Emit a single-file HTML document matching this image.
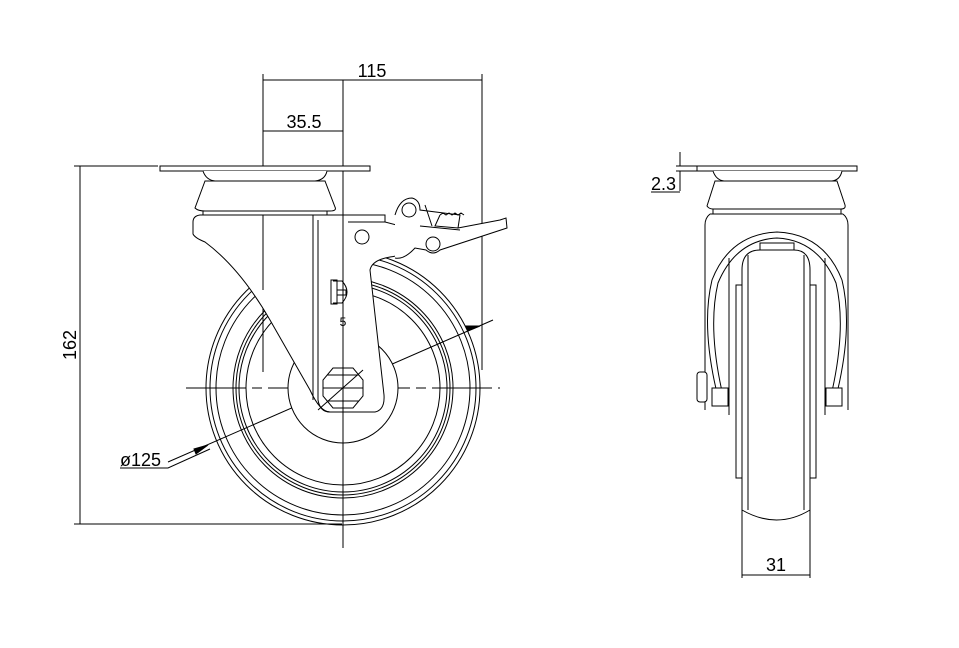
<!DOCTYPE html>
<html><head><meta charset="utf-8"><style>html,body{margin:0;padding:0;background:#fff}svg{display:block}</style></head>
<body>
<svg width="959" height="648" viewBox="0 0 959 648" xmlns="http://www.w3.org/2000/svg" fill="none" stroke="#000" stroke-width="1" font-family="Liberation Sans, sans-serif">
<!-- LEFT VIEW -->
<line x1="263" y1="80" x2="482" y2="80"/>
<line x1="263" y1="74" x2="263" y2="372"/>
<line x1="482" y1="74" x2="482" y2="370"/>
<text x="372" y="77" font-size="18" fill="#000" stroke="none" text-anchor="middle">115</text>
<line x1="263" y1="131" x2="343" y2="131"/>
<text x="304" y="128" font-size="18" fill="#000" stroke="none" text-anchor="middle">35.5</text>
<line x1="80" y1="166" x2="80" y2="524"/>
<line x1="74" y1="166" x2="158" y2="166"/>
<line x1="74" y1="524" x2="342" y2="524"/>
<text transform="translate(80,345) rotate(-90)" font-size="18" fill="#000" stroke="none" text-anchor="middle" dy="-4">162</text>
<line x1="343" y1="80" x2="343" y2="548"/>
<line x1="186" y1="388" x2="500" y2="388" stroke-dasharray="60,6,10,6"/>
<line x1="168" y1="462" x2="493" y2="320"/>
<polygon points="208,445 196,454 194,449" fill="#000"/>
<polygon points="480,326 468,331 466,326" fill="#000"/>
<polyline points="120,468 168,468 210,449"/>
<text x="120" y="466" font-size="18" fill="#000" stroke="none">ø125</text>
<g>
<circle cx="343" cy="388" r="137"/>
<circle cx="343" cy="388" r="133"/>
<circle cx="343" cy="388" r="127"/>
<circle cx="343" cy="388" r="110"/>
<circle cx="343" cy="388" r="107"/>
<circle cx="343" cy="388" r="104"/>
<circle cx="343" cy="388" r="97"/>
<circle cx="343" cy="388" r="55" fill="#fff"/>
</g>
<rect x="160" y="166" width="210" height="5" fill="#fff"/>
<path d="M203 171 Q206 180 215 181 L315 181 Q325 180 327 171" fill="#fff"/>
<path d="M205 181 L195 208 Q198 211 205 211 L330 211 Q337 211 335 207 L325 181 Z" fill="#fff"/>
<rect x="203" y="211" width="124" height="4" fill="#fff"/>
<path d="M200 215 Q193 216 193 222 L193 234 Q195 238 205 242 Q240 268 270 320 L310 390 Q320 412 330 412 L375 412 Q385 410 384 395 L370 270 Q372 260 390 257 Q408 255 412 240 L408 228 L385 222 L385 215 Z" fill="#fff"/>
<line x1="343" y1="215" x2="343" y2="548"/>
<line x1="263" y1="215" x2="263" y2="290"/>
<path d="M313 215 L313 400"/>
<path d="M318 220 L318 400 Q320 412 330 412"/>
<path d="M385 222 L348 222"/>
<rect x="331" y="280" width="6" height="24"/>
<path d="M333 281 L342 281 Q352 292 342 303 L333 303"/>
<rect x="337" y="290" width="9" height="5"/>
<text x="343" y="326" font-size="12" fill="#000" stroke="none" text-anchor="middle">5</text>
<polygon points="333,368 353,368 363,380 363,396 353,408 333,408 323,396 323,380" fill="#fff"/>
<line x1="327" y1="375" x2="359" y2="375"/>
<line x1="327" y1="401" x2="359" y2="401"/>
<line x1="343" y1="368" x2="343" y2="408"/>
<line x1="323" y1="388" x2="363" y2="388"/>
<line x1="318" y1="410" x2="363" y2="370"/>
<circle cx="362" cy="237" r="7" fill="#fff"/>
<path d="M395 215 Q400 198 412 198 Q420 200 420 210 L460 215 L458 228 L500 220 L506 218 L507 228 L440 250 Q433 256 426 250 L415 248 Q404 260 395 258" fill="#fff"/>
<circle cx="409" cy="210" r="7" fill="#fff"/>
<circle cx="433" cy="244" r="7" fill="#fff"/>
<path d="M425 205 L432 226 M440 215 L435 226 L458 228"/>
<path d="M420 226 L460 230"/>
<path d="M440 215 l3 -2 3 2 3 -2 3 2 3 -2 3 2 3 -2 3 2"/>
<!-- RIGHT VIEW -->
<line x1="680" y1="152" x2="680" y2="166"/>
<line x1="680" y1="171" x2="680" y2="191"/>
<line x1="676" y1="166" x2="697" y2="166"/>
<line x1="676" y1="171" x2="697" y2="171"/>
<text x="651" y="190" font-size="18" fill="#000" stroke="none">2.3</text>
<line x1="651" y1="192" x2="680" y2="192"/>
<rect x="697" y="166" width="160" height="5" fill="#fff"/>
<path d="M713 171 Q716 180 724 181 L832 181 Q840 180 842 171" fill="#fff"/>
<path d="M715 181 L707 206 Q709 209 713 209 L841 209 Q846 209 845 205 L837 181 Z" fill="#fff"/>
<rect x="713" y="209" width="128" height="5" fill="#fff"/>
<path d="M710 214 Q705 218 705 225 L705 410 M843 214 Q848 218 848 225 L848 410 M710 214 L843 214"/>
<path d="M720 405 Q700 330 712 280 Q730 234 777 232 Q824 234 842 280 Q854 330 834 405"/>
<path d="M724 400 Q707 330 718 283 Q736 240 777 238 Q818 240 836 283 Q847 330 830 400"/>
<line x1="729" y1="258" x2="729" y2="415"/>
<line x1="825" y1="258" x2="825" y2="415"/>
<rect x="760" y="243" width="34" height="7" fill="#fff"/>
<path d="M736 285 L742 285 L742 478 L736 478 Z M810 285 L816 285 L816 478 L810 478 Z"/>
<path d="M742 270 Q742 250 760 250 L794 250 Q810 250 810 270 L810 510 Q777 530 742 510 Z" fill="#fff"/>
<line x1="748" y1="255" x2="748" y2="510"/>
<line x1="804" y1="255" x2="804" y2="510"/>
<rect x="697" y="372" width="10" height="30" rx="3" fill="#fff"/>
<rect x="712" y="388" width="16" height="18" fill="#fff"/>
<rect x="826" y="388" width="16" height="18" fill="#fff"/>
<line x1="742" y1="510" x2="742" y2="578"/>
<line x1="810" y1="510" x2="810" y2="578"/>
<line x1="742" y1="575" x2="810" y2="575"/>
<text x="776" y="571" font-size="18" fill="#000" stroke="none" text-anchor="middle">31</text>
</svg>
</body></html>
